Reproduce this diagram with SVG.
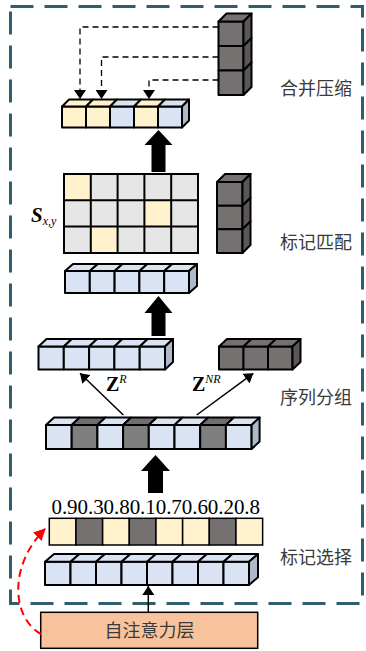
<svg xmlns="http://www.w3.org/2000/svg" width="366" height="651" viewBox="0 0 366 651">
  <style>
    .cube { stroke: #000; stroke-width: 2; stroke-linejoin: round; }
    .b { fill: #dae3f3; }
    .c { fill: #fff2cc; }
    .g { fill: #7f7f7f; }
    .gt { fill: #6e6e6e; }
    .d { fill: #767171; }
    .ds { fill: #5b5757; }
    .bs { fill: #adb9ca; }
    .m { fill: #e7e6e6; }
    .label { font-family: "Noto Sans CJK SC", "Noto Sans", sans-serif; font-size: 18px; fill: #3a3a3a; }
    .math { font-family: "Liberation Serif", "Times New Roman", serif; fill: #000; }
    .dash { fill: none; stroke: #000; stroke-width: 1.3; stroke-dasharray: 6 4; }
    .thin { fill: none; stroke: #000; stroke-width: 1.5; }
    .big { fill: #000; }
  </style>
  <defs>
    <marker id="tri" viewBox="0 0 9 12" refX="9" refY="6" markerWidth="9" markerHeight="12" markerUnits="userSpaceOnUse" orient="auto">
      <path d="M0,0 L9,6 L0,12 z" fill="#000"/>
    </marker>
    <marker id="triRed" viewBox="0 0 12 12" refX="11" refY="6" markerWidth="12" markerHeight="12" markerUnits="userSpaceOnUse" orient="auto">
      <path d="M0,0 L12,6 L0,12 z" fill="#ff0000"/>
    </marker>
  </defs>

  <!-- module boundary -->
  <rect id="module-frame" x="10.5" y="6.5" width="352" height="597" fill="none" stroke="#2f5f6e" stroke-width="3" stroke-dasharray="23 11"/>

  <!-- merged output tokens -->
  <g id="merged-row" class="cube" transform="translate(62,106.5)">
    <rect class="c" x="0" y="0" width="24" height="21"/>
    <rect class="c" x="24" y="0" width="24" height="21"/>
    <rect class="b" x="48" y="0" width="24" height="21"/>
    <rect class="c" x="72" y="0" width="24" height="21"/>
    <rect class="b" x="96" y="0" width="24" height="21"/>
    <path class="c" d="M0,0 l7,-7 h24 l-7,7z"/>
    <path class="c" d="M24,0 l7,-7 h24 l-7,7z"/>
    <path class="b" d="M48,0 l7,-7 h24 l-7,7z"/>
    <path class="c" d="M72,0 l7,-7 h24 l-7,7z"/>
    <path class="b" d="M96,0 l7,-7 h24 l-7,7z"/>
    <path class="bs" d="M120,0 l7,-7 v21 l-7,7z"/>
  </g>

  <!-- non-relevant tokens stack (top) -->
  <g id="stack-top" class="cube" transform="translate(218.5,21.5)">
    <rect class="d" x="0" y="0" width="25" height="24.5"/>
    <rect class="d" x="0" y="24.5" width="25" height="24.5"/>
    <rect class="d" x="0" y="49" width="25" height="24.5"/>
    <path class="d" d="M0,0 l8,-8 h25 l-8,8z"/>
    <path class="ds" d="M25,0 l8,-8 v24.5 l-8,8z"/>
    <path class="ds" d="M25,24.5 l8,-8 v24.5 l-8,8z"/>
    <path class="ds" d="M25,49 l8,-8 v24.5 l-8,8z"/>
  </g>

  <text id="label-merge" class="label" x="280" y="95">合并压缩</text>

  <!-- similarity matrix -->
  <g id="matrix">
    <rect class="m" x="64" y="174" width="134" height="79"/>
    <rect class="c" x="64" y="174" width="26.8" height="26.3"/>
    <rect class="c" x="144.4" y="200.3" width="26.8" height="26.3"/>
    <rect class="c" x="90.8" y="226.6" width="26.8" height="26.3"/>
    <path d="M64,174 H198 V253 H64 Z M90.8,174 V253 M117.6,174 V253 M144.4,174 V253 M171.2,174 V253 M64,200.3 H198 M64,226.6 H198" fill="none" stroke="#000" stroke-width="2"/>
    <text class="math" x="31" y="222" font-size="21" font-weight="bold" font-style="italic">S<tspan font-size="12" font-weight="normal" dy="3">x,y</tspan></text>
  </g>

  <!-- non-relevant tokens stack (matching) -->
  <g id="stack-match" class="cube" transform="translate(217,182)">
    <rect class="d" x="0" y="0" width="25.5" height="23.67"/>
    <rect class="d" x="0" y="23.67" width="25.5" height="23.67"/>
    <rect class="d" x="0" y="47.33" width="25.5" height="23.67"/>
    <path class="d" d="M0,0 l8,-8 h25.5 l-8,8z"/>
    <path class="ds" d="M25.5,0 l8,-8 v23.67 l-8,8z"/>
    <path class="ds" d="M25.5,23.67 l8,-8 v23.67 l-8,8z"/>
    <path class="ds" d="M25.5,47.33 l8,-8 v23.67 l-8,8z"/>
  </g>

  <text id="label-match" class="label" x="280" y="248.5">标记匹配</text>

  <!-- relevant tokens before matching -->
  <g id="relevant-row" class="cube" transform="translate(65,271)">
    <rect class="b" x="0" y="0" width="24.8" height="22"/>
    <rect class="b" x="24.8" y="0" width="24.8" height="22"/>
    <rect class="b" x="49.6" y="0" width="24.8" height="22"/>
    <rect class="b" x="74.4" y="0" width="24.8" height="22"/>
    <rect class="b" x="99.2" y="0" width="24.8" height="22"/>
    <path class="b" d="M0,0 l8,-7 h24.8 l-8,7z"/>
    <path class="b" d="M24.8,0 l8,-7 h24.8 l-8,7z"/>
    <path class="b" d="M49.6,0 l8,-7 h24.8 l-8,7z"/>
    <path class="b" d="M74.4,0 l8,-7 h24.8 l-8,7z"/>
    <path class="b" d="M99.2,0 l8,-7 h24.8 l-8,7z"/>
    <path class="bs" d="M124,0 l8,-7 v22 l-8,7z"/>
  </g>

  <!-- Z^R group -->
  <g id="group-r" class="cube" transform="translate(38.5,346.5)">
    <rect class="b" x="0" y="0" width="25.3" height="23"/>
    <rect class="b" x="25.3" y="0" width="25.3" height="23"/>
    <rect class="b" x="50.6" y="0" width="25.3" height="23"/>
    <rect class="b" x="75.9" y="0" width="25.3" height="23"/>
    <rect class="b" x="101.2" y="0" width="25.3" height="23"/>
    <path class="b" d="M0,0 l8,-7.5 h25.3 l-8,7.5z"/>
    <path class="b" d="M25.3,0 l8,-7.5 h25.3 l-8,7.5z"/>
    <path class="b" d="M50.6,0 l8,-7.5 h25.3 l-8,7.5z"/>
    <path class="b" d="M75.9,0 l8,-7.5 h25.3 l-8,7.5z"/>
    <path class="b" d="M101.2,0 l8,-7.5 h25.3 l-8,7.5z"/>
    <path class="bs" d="M126.5,0 l8,-7.5 v23 l-8,7.5z"/>
  </g>

  <!-- Z^NR group -->
  <g id="group-nr" class="cube" transform="translate(219,346.5)">
    <rect class="d" x="0" y="0" width="24.5" height="23"/>
    <rect class="d" x="24.5" y="0" width="24.5" height="23"/>
    <rect class="d" x="49" y="0" width="24.5" height="23"/>
    <path class="d" d="M0,0 l8,-7.5 h24.5 l-8,7.5z"/>
    <path class="d" d="M24.5,0 l8,-7.5 h24.5 l-8,7.5z"/>
    <path class="d" d="M49,0 l8,-7.5 h24.5 l-8,7.5z"/>
    <path class="ds" d="M73.5,0 l8,-7.5 v23 l-8,7.5z"/>
  </g>

  <text id="label-group" class="label" x="280" y="404">序列分组</text>

  <!-- full token sequence -->
  <g id="sequence-row" class="cube" transform="translate(46,425)">
    <rect class="b" x="0" y="0" width="25.7" height="24"/>
    <rect class="g" x="25.7" y="0" width="25.7" height="24"/>
    <rect class="b" x="51.4" y="0" width="25.7" height="24"/>
    <rect class="g" x="77.1" y="0" width="25.7" height="24"/>
    <rect class="b" x="102.8" y="0" width="25.7" height="24"/>
    <rect class="b" x="128.5" y="0" width="25.7" height="24"/>
    <rect class="g" x="154.2" y="0" width="25.7" height="24"/>
    <rect class="b" x="179.9" y="0" width="25.7" height="24"/>
    <path class="b" d="M0,0 l8,-7.5 h25.7 l-8,7.5z"/>
    <path class="gt" d="M25.7,0 l8,-7.5 h25.7 l-8,7.5z"/>
    <path class="b" d="M51.4,0 l8,-7.5 h25.7 l-8,7.5z"/>
    <path class="gt" d="M77.1,0 l8,-7.5 h25.7 l-8,7.5z"/>
    <path class="b" d="M102.8,0 l8,-7.5 h25.7 l-8,7.5z"/>
    <path class="b" d="M128.5,0 l8,-7.5 h25.7 l-8,7.5z"/>
    <path class="gt" d="M154.2,0 l8,-7.5 h25.7 l-8,7.5z"/>
    <path class="b" d="M179.9,0 l8,-7.5 h25.7 l-8,7.5z"/>
    <path class="bs" d="M205.6,0 l8,-7.5 v24 l-8,7.5z"/>
  </g>

  <!-- token scores -->
  <g id="score-bar" stroke="#000" stroke-width="1.5">
    <rect class="c" x="49.3" y="518.3" width="26.67" height="26.7"/>
    <rect class="d" x="75.97" y="518.3" width="26.67" height="26.7"/>
    <rect class="c" x="102.63" y="518.3" width="26.67" height="26.7"/>
    <rect class="d" x="129.3" y="518.3" width="26.67" height="26.7"/>
    <rect class="c" x="155.97" y="518.3" width="26.67" height="26.7"/>
    <rect class="c" x="182.63" y="518.3" width="26.67" height="26.7"/>
    <rect class="d" x="209.3" y="518.3" width="26.67" height="26.7"/>
    <rect class="c" x="235.97" y="518.3" width="26.67" height="26.7"/>
  </g>
  <text id="scores" class="math" x="51.5" y="513.5" font-size="21" textLength="208.5" lengthAdjust="spacing">0.90.30.80.10.70.60.20.8</text>

  <!-- input tokens -->
  <g id="input-row" class="cube" transform="translate(45,561.7)">
    <rect class="b" x="0" y="0" width="25.5" height="23.3"/>
    <rect class="b" x="25.5" y="0" width="25.5" height="23.3"/>
    <rect class="b" x="51" y="0" width="25.5" height="23.3"/>
    <rect class="b" x="76.5" y="0" width="25.5" height="23.3"/>
    <rect class="b" x="102" y="0" width="25.5" height="23.3"/>
    <rect class="b" x="127.5" y="0" width="25.5" height="23.3"/>
    <rect class="b" x="153" y="0" width="25.5" height="23.3"/>
    <rect class="b" x="178.5" y="0" width="25.5" height="23.3"/>
    <path class="b" d="M0,0 l9,-7.7 h25.5 l-9,7.7z"/>
    <path class="b" d="M25.5,0 l9,-7.7 h25.5 l-9,7.7z"/>
    <path class="b" d="M51,0 l9,-7.7 h25.5 l-9,7.7z"/>
    <path class="b" d="M76.5,0 l9,-7.7 h25.5 l-9,7.7z"/>
    <path class="b" d="M102,0 l9,-7.7 h25.5 l-9,7.7z"/>
    <path class="b" d="M127.5,0 l9,-7.7 h25.5 l-9,7.7z"/>
    <path class="b" d="M153,0 l9,-7.7 h25.5 l-9,7.7z"/>
    <path class="b" d="M178.5,0 l9,-7.7 h25.5 l-9,7.7z"/>
    <path class="bs" d="M204,0 l9,-7.7 v23.3 l-9,7.7z"/>
  </g>

  <text id="label-select" class="label" x="280" y="564">标记选择</text>

  <!-- self-attention layer -->
  <g id="self-attention">
    <rect x="40.7" y="612.3" width="217" height="36" fill="#f8c39c" stroke="#000" stroke-width="1.5"/>
    <text class="label" x="149.5" y="637" text-anchor="middle" fill="#333">自注意力层</text>
  </g>

  <!-- connectors -->
  <g id="connectors">
    <path class="dash" d="M218.5,27 H80 V99" marker-end="url(#tri)"/>
    <path class="dash" d="M218.5,57 H101.5 V99" marker-end="url(#tri)"/>
    <path class="dash" d="M218.5,80 H149 V99" marker-end="url(#tri)"/>
    <polygon class="big" points="158.5,130 172.5,145 165.5,145 165.5,172 151.5,172 151.5,145 144.5,145"/>
    <polygon class="big" points="158.5,296 172.5,313 165.5,313 165.5,336 151.5,336 151.5,313 144.5,313"/>
    <polygon class="big" points="155.5,455 170,471 163,471 163,493 148,493 148,471 141,471"/>
    <path class="thin" d="M123.3,415 L80,373.3" marker-end="url(#tri)"/>
    <path class="thin" d="M196.7,415 L253.3,373.3" marker-end="url(#tri)"/>
    <path class="thin" d="M148.3,612 V586" marker-end="url(#tri)"/>
    <path d="M41,634 C12,618 8,566 45,529" fill="none" stroke="#ff0000" stroke-width="2" stroke-dasharray="8 5" marker-end="url(#triRed)"/>
  </g>

  <!-- group labels -->
  <g id="z-labels" class="math">
    <text x="106" y="391" font-size="20" font-weight="bold">Z<tspan font-size="12" font-weight="normal" font-style="italic" dy="-8">R</tspan></text>
    <text x="192" y="391" font-size="20" font-weight="bold">Z<tspan font-size="12" font-weight="normal" font-style="italic" dy="-8">NR</tspan></text>
  </g>
</svg>
